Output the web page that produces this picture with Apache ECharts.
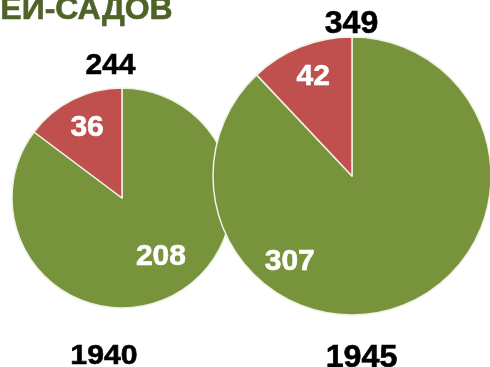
<!DOCTYPE html>
<html>
<head>
<meta charset="utf-8">
<script src="https://cdn.jsdelivr.net/npm/echarts@6/dist/echarts.min.js"></script>
<style>
  html, body { margin: 0; padding: 0; background: #ffffff; }
  #chart { width: 490px; height: 367px; }
</style>
</head>
<body>
<div id="chart"></div>
<script>
// Two years, each split into two groups
const years = ['1940', '1945'];
const groupNames = ['green', 'red'];
const values1940 = [208, 36];
const values1945 = [307, 42];

const GREEN = '#77933C';
const RED = '#C0504D';
const FONT = '"Liberation Sans", Arial, sans-serif';

const sum = arr => arr.reduce((a, b) => a + b, 0);

// nudges for the in-slice labels, per year and slice
const labelNudge = [
  [[13, 7], [-9, -18]],
  [[-89, 18], [-12, -32]]
];

function pieSeries(idx, values, center, radius) {
  return {
    type: 'pie',
    z: 2 + idx,
    center: center,
    radius: radius,
    startAngle: 90,
    clockwise: true,
    silent: true,
    animation: false,
    avoidLabelOverlap: false,
    emphasis: { disabled: true },
    itemStyle: { borderColor: '#eef2e4', borderWidth: 1.5 },
    label: {
      show: true,
      position: 'inside',
      formatter: '{c}',
      color: '#ffffff',
      fontFamily: FONT,
      fontWeight: 'bold',
      fontSize: 30,
      textBorderColor: '#ffffff',
      textBorderWidth: 0.6
    },
    labelLine: { show: false },
    labelLayout: function (p) {
      const d = labelNudge[idx][p.dataIndex];
      return { dx: d[0], dy: d[1] };
    },
    data: values.map((v, i) => ({
      name: groupNames[i],
      value: v,
      itemStyle: { color: i === 0 ? GREEN : RED }
    }))
  };
}

function bigText(text, x, y, size, color, extra) {
  return Object.assign({
    type: 'text', x: x, y: y, z: 10,
    style: { text: text, fill: color, font: 'bold ' + size + 'px ' + FONT,
             align: 'center', verticalAlign: 'middle',
             stroke: color, lineWidth: 0.6 }
  }, extra || {});
}

const chart = echarts.init(document.getElementById('chart'), null, { renderer: 'canvas' });

chart.setOption({
  animation: false,
  backgroundColor: '#ffffff',
  series: [
    pieSeries(0, values1940, [122, 198], 110),
    pieSeries(1, values1945, [352, 176], 139)
  ],
  graphic: [
    {
      type: 'text', left: 0, top: -6, z: 10,
      style: { text: 'ЕЙ-САДОВ', fill: '#4F6228', font: 'bold 32px ' + FONT,
               stroke: '#4F6228', lineWidth: 0.6 }
    },
    bigText(String(sum(values1940)), 110.5, 66, 30, '#000'),
    bigText(String(sum(values1945)), 351.5, 24, 32, '#000'),
    bigText(years[0], 104, 356, 28, '#000', { scaleX: 1.08 }),
    bigText(years[1], 361.5, 358, 31, '#000', { scaleX: 1.04 })
  ]
});
</script>
</body>
</html>
